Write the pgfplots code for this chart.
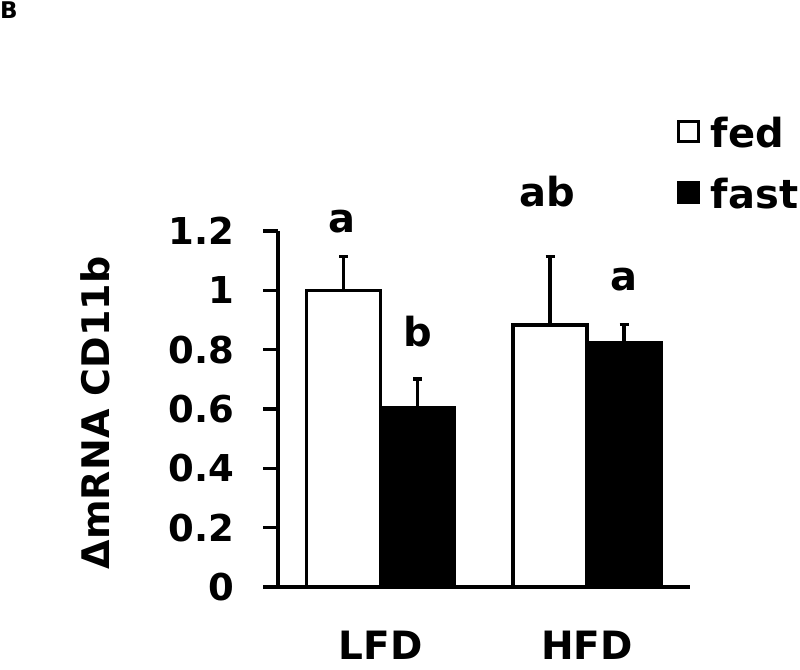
\documentclass[border=0pt]{standalone}
\usepackage{pgfplots}
\pgfplotsset{compat=1.18}
\usepackage{fontspec}
\setmainfont{DejaVu Sans}
\begin{document}
\begin{tikzpicture}
\path[use as bounding box, clip] (0pt,0pt) rectangle (800pt,669pt);
\node[anchor=north west, inner sep=0pt, font=\fontsize{23}{26}\selectfont\bfseries] at (0pt,667pt) {B};
\begin{axis}[
  at={(278pt,82pt)}, anchor=south west,
  scale only axis, width=412pt, height=356pt,
  xmin=278, xmax=690, ymin=0, ymax=1.2,
  clip=false,
  axis x line*=bottom, axis y line*=left,
  axis line style={line width=3.3pt, black},
  ytick={0,0.2,0.4,0.6,0.8,1,1.2},
  yticklabels={0,0.2,0.4,0.6,0.8,1,1.2},
  xtick={380.5,587},
  xticklabels={LFD,HFD},
  x tick style={draw=none},
  y tick style={line width=3.3pt, black},
  major tick length=15pt,
  tick align=outside,
  yticklabel style={font=\fontsize{37}{40}\selectfont\bfseries, anchor=east, xshift=-25pt},
  xticklabel style={font=\fontsize{39}{42}\selectfont\bfseries, anchor=base, yshift=-57pt, inner sep=0pt, text depth=0pt},
  /pgf/number format/assume math mode=true,
  ylabel={ΔmRNA CD11b},
  every axis y label/.style={at={(axis description cs:-0.444,0.489)}, rotate=90, anchor=center, font=\fontsize{38}{42}\selectfont\bfseries},
  ybar, bar width=74pt,
  legend style={at={(rel axis cs:0.968,1.32)}, anchor=north west, draw=none, fill=none,
    inner sep=0pt, outer sep=0pt, row sep=29pt,
    font=\fontsize{40}{44}\selectfont\bfseries,
    nodes={inner sep=0pt, anchor=base west}},
  legend image code/.code={\draw[#1, line width=3pt] (1.5pt,5.5pt) rectangle (21.5pt,25.5pt);},
  legend cell align=left,
]
\addplot[bar shift=0pt, draw=black, fill=white, line width=3.3pt,
  error bars/.cd, y dir=plus, y explicit,
  error bar style={line width=3.3pt, black},
  error mark options={rotate=90, mark size=4.5pt, line width=3.3pt, black}]
  coordinates {(343.5,1.0) +- (0,0.115) (550,0.883) +- (0,0.23)};
\addlegendentry{\hspace{11pt}fed}
\addplot[bar shift=0pt, draw=black, fill=black, line width=3.3pt,
  error bars/.cd, y dir=plus, y explicit,
  error bar style={line width=3.3pt, black},
  error mark options={rotate=90, mark size=4.5pt, line width=3.3pt, black}]
  coordinates {(417.5,0.604) +- (0,0.097) (624,0.823) +- (0,0.063)};
\addlegendentry{\hspace{11pt}fast}
\node[anchor=base, font=\fontsize{40}{44}\selectfont\bfseries] at (axis cs:341.5,1.196) {a};
\node[anchor=base, font=\fontsize{40}{44}\selectfont\bfseries] at (axis cs:417.5,0.809) {b};
\node[anchor=base, font=\fontsize{40}{44}\selectfont\bfseries] at (axis cs:547.5,1.281) {ab};
\node[anchor=base, font=\fontsize{40}{44}\selectfont\bfseries] at (axis cs:623.5,1.001) {a};
\end{axis}
\end{tikzpicture}
\end{document}
